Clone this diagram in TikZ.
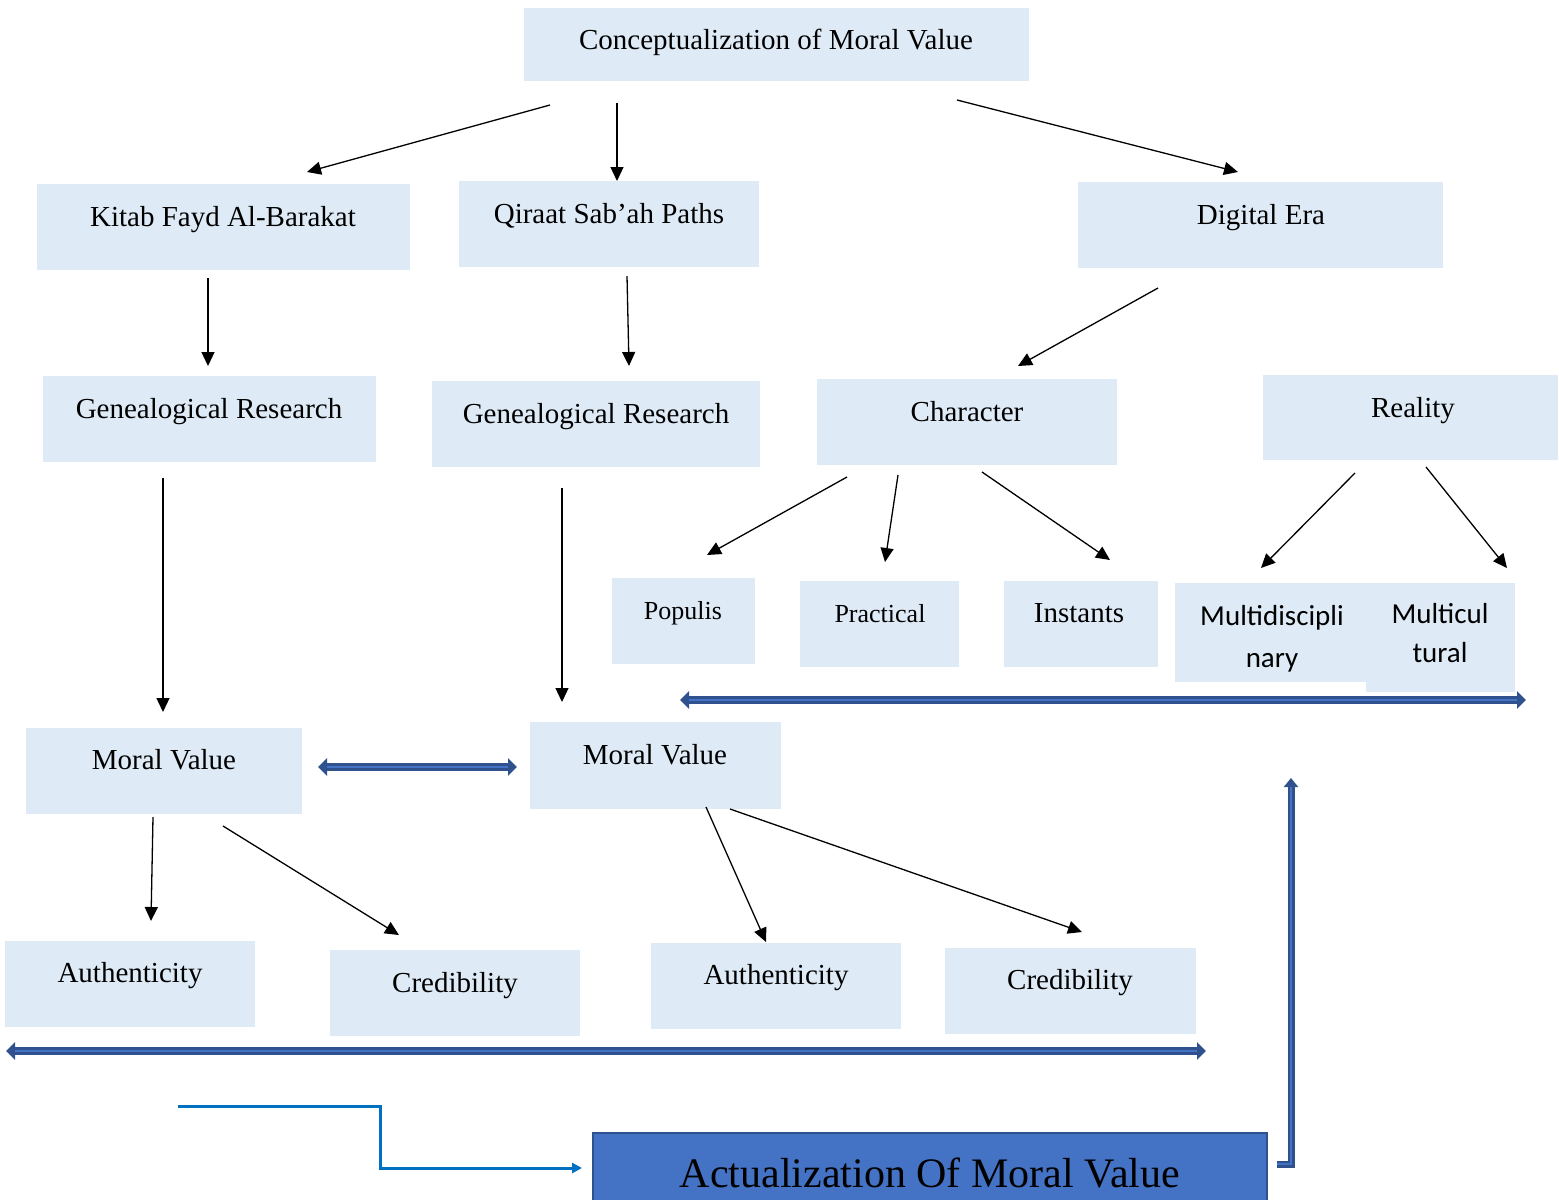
\documentclass[tikz,border=0pt]{standalone}
\usepackage{fontspec}
\setmainfont{Liberation Serif}
\newfontfamily\calfont{Carlito}
\usetikzlibrary{arrows.meta}
\definecolor{boxblue}{HTML}{DEEBF7}
\definecolor{dkblue}{HTML}{2F528F}
\definecolor{midblue}{HTML}{4472C4}
\definecolor{lineblue}{HTML}{0070C0}
\newcommand\mkbox[5]{\node[box, minimum width={(#4-#2)*0.5pt}, minimum height={(#5-#3)*0.5pt}] (#1) at ({(#2+#4)/2},{(#3+#5)/2}) {};}
\begin{document}
\begin{tikzpicture}[x=0.5pt,y=-0.5pt,
  box/.style={fill=boxblue, draw=none, inner sep=0pt, outer sep=0pt},
  txt/.style={anchor=base, inner sep=0pt, font=\fontsize{14.5}{17}\selectfont},
  stxt/.style={anchor=base, inner sep=0pt, font=\fontsize{13}{16}\selectfont},
  ctxt/.style={anchor=base, inner sep=0pt, align=center, font=\calfont\fontsize{14.5}{21}\selectfont},
  arr/.style={draw=black, line width=0.65pt, -{Triangle[length=7pt,width=6.5pt]}},
  dbl/.style={draw=dkblue, line width=4pt, {Triangle[length=4.5pt,width=8.5pt]}-{Triangle[length=4.5pt,width=8.5pt]}},
  dblin/.style={draw=midblue, line width=1.2pt, shorten <=4.5pt, shorten >=4.5pt},
  sgl/.style={draw=dkblue, line width=3.5pt, line join=miter, -{Triangle[length=4.5pt,width=7pt]}},
  sglin/.style={draw=midblue, line width=1pt, line join=miter, shorten >=4.5pt},
  elbow/.style={draw=lineblue, line width=1.5pt, -{Triangle[length=5pt,width=5pt]}}]
\useasboundingbox (0,0) rectangle (1559,1200);
\clip (0,0) rectangle (1559,1200);
% boxes
\mkbox{concept}{524}{8}{1029}{81}
\mkbox{kitab}{37}{184}{410}{270}
\mkbox{qiraat}{459}{181}{759}{267}
\mkbox{digital}{1078}{182}{1443}{268}
\mkbox{gen1}{43}{376}{376}{462}
\mkbox{gen2}{432}{381}{760}{467}
\mkbox{character}{817}{379}{1117}{465}
\mkbox{reality}{1263}{375}{1558}{460}
\mkbox{populis}{612}{578}{755}{664}
\mkbox{practical}{800}{581}{959}{667}
\mkbox{instants}{1004}{581}{1158}{667}
\mkbox{multid}{1175}{583}{1366}{682}
\mkbox{multic}{1366}{583}{1515}{692}
\mkbox{moral1}{26}{728}{302}{814}
\mkbox{moral2}{530}{722}{781}{809}
\mkbox{auth1}{5}{941}{255}{1027}
\mkbox{cred1}{330}{950}{580}{1036}
\mkbox{auth2}{651}{943}{901}{1029}
\mkbox{cred2}{945}{948}{1196}{1034}
\node[fill=midblue, draw=dkblue, line width=1pt, inner sep=0pt, minimum width={674*0.5pt}, minimum height={80*0.5pt}] (actual) at (930,1173) {};
% texts
\node[txt] (concept-t) at (776,49) {Conceptualization of Moral Value};
\node[txt] (kitab-t) at (223,226) {Kitab Fayd Al-Barakat};
\node[txt] (qiraat-t) at (609,223) {Qiraat Sab’ah Paths};
\node[txt] (digital-t) at (1261,224) {Digital Era};
\node[txt] (gen1-t) at (209,418) {Genealogical Research};
\node[txt] (gen2-t) at (596,423) {Genealogical Research};
\node[txt] (character-t) at (967,421) {Character};
\node[txt] (reality-t) at (1413,417) {Reality};
\node[stxt] (populis-t) at (683,619) {Populis};
\node[stxt] (practical-t) at (880,622) {Practical};
\node[txt] (instants-t) at (1079,622) {Instants};
\node[ctxt] (multid-t) at (1272,667) {Multidiscipli\\nary};
\node[ctxt, font=\calfont\fontsize{14.5}{19.5}\selectfont] (multic-t) at (1440,662) {Multicul\\tural};
\node[txt] (moral1-t) at (164,769) {Moral Value};
\node[txt] (moral2-t) at (655,764) {Moral Value};
\node[txt] (auth1-t) at (130,982) {Authenticity};
\node[txt] (cred1-t) at (455,992) {Credibility};
\node[txt] (auth2-t) at (776,984) {Authenticity};
\node[txt] (cred2-t) at (1070,989) {Credibility};
\node[anchor=base, inner sep=0pt, font=\fontsize{21}{25}\selectfont] (actual-t) at (930,1187) {Actualization Of Moral Value};
% connector end points
\coordinate (a1s) at (550,105); \coordinate (a1e) at (307,172);
\coordinate (a2s) at (617,103); \coordinate (a2e) at (617,181);
\coordinate (a3s) at (957,100); \coordinate (a3e) at (1238,172);
\coordinate (a4s) at (208,278); \coordinate (a4e) at (208,366);
\coordinate (a5s) at (627,276); \coordinate (a5e) at (629,366);
\coordinate (a6s) at (1158,288); \coordinate (a6e) at (1018,366);
\coordinate (a7s) at (163,478); \coordinate (a7e) at (163,712);
\coordinate (a8s) at (562,488); \coordinate (a8e) at (562,702);
\coordinate (a9s) at (847,477); \coordinate (a9e) at (707,555);
\coordinate (a10s) at (898,475); \coordinate (a10e) at (885,562);
\coordinate (a11s) at (982,472); \coordinate (a11e) at (1110,560);
\coordinate (a12s) at (1355,473); \coordinate (a12e) at (1261,568);
\coordinate (a13s) at (1426,467); \coordinate (a13e) at (1507,568);
\coordinate (a14s) at (153,817); \coordinate (a14e) at (151,921);
\coordinate (a15s) at (223,826); \coordinate (a15e) at (399,935);
\coordinate (a16s) at (706,807); \coordinate (a16e) at (766,942);
\coordinate (a17s) at (730,809); \coordinate (a17e) at (1082,932);
\coordinate (d1s) at (318,767); \coordinate (d1e) at (517,767);
\coordinate (d2s) at (680,700); \coordinate (d2e) at (1526,700);
\coordinate (d3s) at (6,1051); \coordinate (d3e) at (1206,1051);
\coordinate (v1s) at (1277,1164); \coordinate (v1m) at (1291,1164); \coordinate (v1e) at (1291,778);
\coordinate (e1s) at (178,1106); \coordinate (e1a) at (380,1106); \coordinate (e1b) at (380,1168); \coordinate (e1e) at (582,1168);
% black arrows
\foreach \i in {1,...,17} {\draw[arr] (a\i s) -- (a\i e);}
% blue double arrows
\foreach \i in {1,2,3} {\draw[dbl] (d\i s) -- (d\i e); \draw[dblin] (d\i s) -- (d\i e);}
% vertical return arrow
\draw[sgl] (v1s) -- (v1m) -- (v1e);
\draw[sglin] (v1s) -- (v1m) -- (v1e);
% elbow connector
\draw[elbow] (e1s) -- (e1a) -- (e1b) -- (e1e);
\end{tikzpicture}
\end{document}
